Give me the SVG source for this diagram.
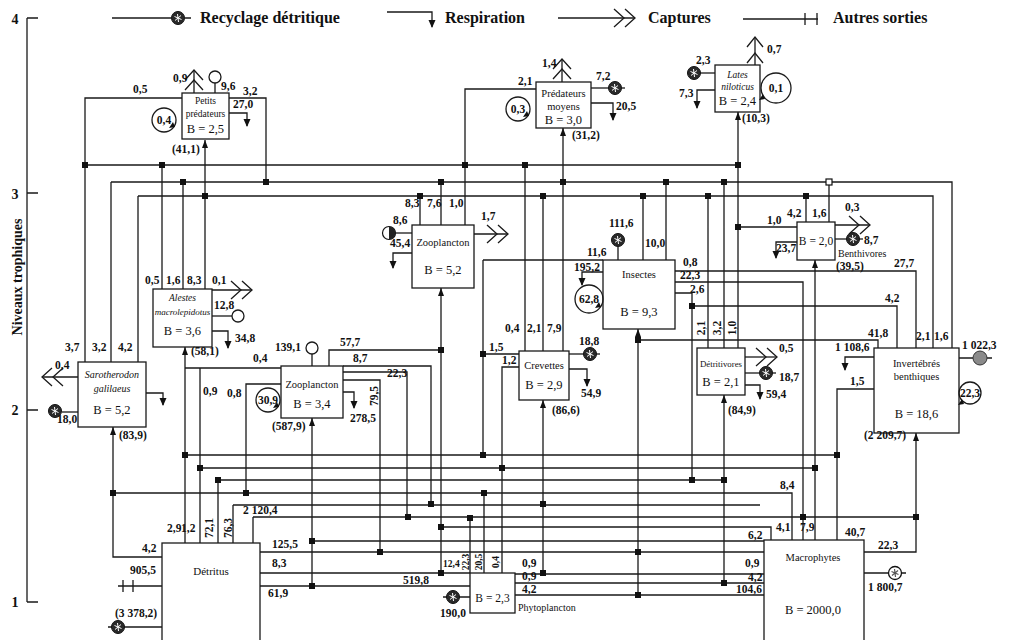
<svg xmlns="http://www.w3.org/2000/svg" xmlns:xlink="http://www.w3.org/1999/xlink" width="1009" height="640" viewBox="0 0 1009 640">
<style>
.c{fill:none;stroke:#1a1a1a;stroke-width:1.3}
.b{fill:#fff;stroke:#1a1a1a;stroke-width:1.3}
.o{fill:#fff;stroke:#1a1a1a;stroke-width:1.3}
.t{font-family:"Liberation Serif","Times New Roman",serif;font-size:11.5px;font-weight:bold;fill:#111}
.n{font-family:"Liberation Serif","Times New Roman",serif;font-size:10px;fill:#111;text-anchor:middle}
.i{font-style:italic}
.B{font-size:12.5px}
.m{text-anchor:middle}
.L{font-family:"Liberation Serif","Times New Roman",serif;font-size:16px;font-weight:bold;fill:#111}
.j{fill:#111}
</style>
<defs>
<marker id="res" viewBox="0 0 8 8" refX="7" refY="4" markerWidth="8" markerHeight="8" markerUnits="userSpaceOnUse" orient="auto"><path d="M0,0.5 L8,4 L0,7.5 z" fill="#111"/></marker>
<g id="rec"><circle r="6.5" fill="#2a2a2a" stroke="#111" stroke-width="1"/><path d="M-3.5,-1.5 L3.5,1.5 M-3,2.5 L3,-2.5 M-0.5,-4 L0.5,4" stroke="#fff" stroke-width="1"/></g>
<g id="recl"><circle r="6.5" fill="#fff" stroke="#111" stroke-width="1.3"/><path d="M-3.5,-1.5 L3.5,1.5 M-3,2.5 L3,-2.5 M-0.5,-4 L0.5,4" stroke="#555" stroke-width="1.2"/></g>
<path id="capR" d="M-21,-9 L-11,0 L-21,9 M-10,-9 L0,0 L-10,9" fill="none" stroke="#1a1a1a" stroke-width="1.3"/>
<path id="inp" d="M-3,8 L0,0 L3,8 z" fill="#111"/>
<path id="loop" d="M0,0 L-6,1 L-2,-5 z" fill="#111"/>
</defs>

<!-- legend -->
<g id="legend">
<path class="c" d="M112,18 H171 M185,18 H191"/>
<use xlink:href="#rec" x="178" y="18"/>
<text class="L" x="200" y="23">Recyclage détritique</text>
<path class="c" d="M387,12 H432 V27" marker-end="url(#res)"/>
<text class="L" x="445" y="23">Respiration</text>
<path class="c" d="M558,18 H635"/>
<use xlink:href="#capR" x="635" y="18"/>
<text class="L" x="648" y="23">Captures</text>
<path class="c" d="M743,19 H818 M805,13 V25 M817,13 V25"/>
<text class="L" x="833" y="23">Autres sorties</text>
</g>

<!-- axis -->
<g id="axis">
<path class="c" d="M27,18 V602 M27,18 H38 M27,193 H38 M27,410 H38 M27,602 H38"/>
<text class="t" x="15" y="24" style="font-size:14px" text-anchor="middle">4</text>
<text class="t" x="15" y="199" style="font-size:14px" text-anchor="middle">3</text>
<text class="t" x="15" y="415" style="font-size:14px" text-anchor="middle">2</text>
<text class="t" x="15" y="607" style="font-size:14px" text-anchor="middle">1</text>
<text class="L" x="0" y="0" transform="translate(22,277) rotate(-90)" text-anchor="middle" style="font-size:14px">Niveaux trophiques</text>
</g>

<!-- connectors -->
<g id="connectors">
<path class="c" d="M182,98 H85 V362 M229,98 H266 V182 M536,89 H465 V225"/>
<path class="c" d="M85,165 H738 M111,182 H952 V348 M138,196 H933 V348"/>
<path class="c" d="M111,182 V362 M138,196 V362 M162,165 V289 M183,182 V289 M205,140 V289"/>
<path class="c" d="M420,196 V225 M441,182 V225 M525,165 V351 M543,196 V351 M563,128 V351"/>
<path class="c" d="M643,196 V260 M666,182 V260 M708,196 V348 M724,182 V348 M738,112 V348 M738,227 H797 M806,196 V222 M829,182 V222"/>
<path class="c" d="M483,260 H603 M483,260 V455 M519,354 H483 M519,367 H502 V573"/>
<path class="c" d="M675,271 H916 V348 M675,282 H803 V540 M675,293 H692 V480 M692,306 H897 V348"/>
<path class="c" d="M638,329 V595 M638,340 H878 V348 M815,260 V540 M874,389 H837 V540 M916,433 V552 H864"/>
<path class="c" d="M441,288 V573 M329,366 V350 H441 M343,366 H431 V504 M343,372 H407 V517 M343,380 H380 V552 M312,418 V586"/>
<path class="c" d="M281,368 H200 V543 M281,384 H246 V493 M200,368 H185"/>
<path class="c" d="M185,347 V543 M218,480 V543 M233,505 V543 M253,517 V543 M113,427 V557 H162"/>
<path class="c" d="M185,455 H837 M200,468 H815 M218,480 H724 M113,493 H792 V540 M233,505 H760 M253,517 H916 M441,527 H771 V540 M312,541 H764 M260,552 H764"/>
<path class="c" d="M260,573 H470 M515,574 H764 M515,583 H764 M515,595 H764 M260,586 H470 M470,518 V573 M484,493 V573 M543,400 V573 M724,395 V583"/>
<g class="j">
<rect x="82" y="162" width="6" height="6"/><rect x="159" y="162" width="6" height="6"/><rect x="462" y="162" width="6" height="6"/><rect x="522" y="162" width="6" height="6"/><rect x="735" y="162" width="6" height="6"/>
<rect x="180" y="179" width="6" height="6"/><rect x="263" y="179" width="6" height="6"/><rect x="438" y="179" width="6" height="6"/><rect x="560" y="179" width="6" height="6"/><rect x="663" y="179" width="6" height="6"/><rect x="721" y="179" width="6" height="6"/>
<rect x="202" y="193" width="6" height="6"/><rect x="417" y="193" width="6" height="6"/><rect x="540" y="193" width="6" height="6"/><rect x="640" y="193" width="6" height="6"/><rect x="705" y="193" width="6" height="6"/><rect x="803" y="193" width="6" height="6"/>
<rect x="735" y="224" width="6" height="6"/><rect x="689" y="303" width="6" height="6"/><rect x="635" y="337" width="6" height="6"/><rect x="480" y="351" width="6" height="6"/><rect x="438" y="347" width="6" height="6"/>
<rect x="182" y="452" width="6" height="6"/><rect x="480" y="452" width="6" height="6"/><rect x="834" y="452" width="6" height="6"/>
<rect x="197" y="465" width="6" height="6"/><rect x="499" y="465" width="6" height="6"/><rect x="812" y="465" width="6" height="6"/>
<rect x="215" y="477" width="6" height="6"/><rect x="689" y="477" width="6" height="6"/><rect x="721" y="477" width="6" height="6"/>
<rect x="110" y="490" width="6" height="6"/><rect x="243" y="490" width="6" height="6"/><rect x="481" y="490" width="6" height="6"/>
<rect x="428" y="501" width="6" height="6"/><rect x="540" y="501" width="6" height="6"/>
<rect x="405" y="514" width="6" height="6"/><rect x="467" y="515" width="6" height="6"/><rect x="800" y="514" width="6" height="6"/><rect x="913" y="514" width="6" height="6"/>
<rect x="438" y="524" width="6" height="6"/><rect x="309" y="538" width="6" height="6"/><rect x="377" y="549" width="6" height="6"/><rect x="635" y="549" width="6" height="6"/>
<rect x="438" y="570" width="6" height="6"/><rect x="540" y="570" width="6" height="6"/><rect x="721" y="580" width="6" height="6"/><rect x="309" y="583" width="6" height="6"/><rect x="635" y="592" width="6" height="6"/>
</g>
<rect x="826" y="179" width="6" height="6" fill="#fff" stroke="#111" stroke-width="1.2"/>
<use xlink:href="#inp" x="205" y="140"/><use xlink:href="#inp" x="563" y="128"/><use xlink:href="#inp" x="738" y="112"/><use xlink:href="#inp" x="441" y="288"/>
<use xlink:href="#inp" x="185" y="347"/><use xlink:href="#inp" x="113" y="427"/><use xlink:href="#inp" x="312" y="418"/><use xlink:href="#inp" x="543" y="400"/>
<use xlink:href="#inp" x="638" y="329"/><use xlink:href="#inp" x="724" y="395"/><use xlink:href="#inp" x="815" y="260"/><use xlink:href="#inp" x="916" y="433"/>
</g>

<!-- flow labels -->
<g id="labels" class="t">
<text x="133" y="93">0,5</text><text x="243" y="95">3,2</text><text x="233" y="108">27,0</text>
<text x="518" y="85">2,1</text>
<text x="405" y="207">8,3</text><text x="427" y="207">7,6</text><text x="449" y="207">1,0</text>
<text x="145" y="284">0,5</text><text x="166" y="284">1,6</text><text x="187" y="284">8,3</text>
<text x="65" y="351">3,7</text><text x="92" y="351">3,2</text><text x="118" y="351">4,2</text>
<text x="253" y="362">0,4</text><text x="203" y="395">0,9</text><text x="227" y="397">0,8</text>
<text x="340" y="346">57,7</text><text x="353" y="362">8,7</text><text x="387" y="377">22,3</text>
<text transform="translate(378,396) rotate(-90)" text-anchor="middle">79,5</text>
<text x="505" y="332">0,4</text><text x="527" y="332">2,1</text><text x="547" y="332">7,9</text>
<text x="489" y="351">1,5</text><text x="502" y="364">1,2</text>
<text x="587" y="256">11,6</text><text x="645" y="247">10,0</text>
<text x="683" y="266">0,8</text><text x="680" y="279">22,3</text><text x="690" y="293">2,6</text>
<text transform="translate(705,328) rotate(-90)" text-anchor="middle">2,1</text>
<text transform="translate(721,328) rotate(-90)" text-anchor="middle">3,2</text>
<text transform="translate(736,328) rotate(-90)" text-anchor="middle">1,0</text>
<text x="767" y="224">1,0</text><text x="787" y="217">4,2</text><text x="812" y="217">1,6</text>
<text x="894" y="267">27,7</text><text x="885" y="302">4,2</text><text x="868" y="337">41,8</text>
<text x="916" y="340">2,1</text><text x="934" y="340">1,6</text><text x="850" y="385">1,5</text>
<text x="780" y="489">8,4</text><text x="748" y="539">6,2</text><text x="776" y="531">4,1</text><text x="800" y="531">7,9</text><text x="845" y="536">40,7</text><text x="878" y="549">22,3</text>
<text x="745" y="567">0,9</text><text x="748" y="581">4,2</text><text x="736" y="593">104,6</text>
<text x="522" y="567">0,9</text><text x="522" y="580">0,9</text><text x="522" y="593">4,2</text>
<text x="443" y="567" style="font-size:9.5px">12,4</text>
<text transform="translate(469,562) rotate(-90)" text-anchor="middle" style="font-size:9.5px">22,3</text>
<text transform="translate(482,562) rotate(-90)" text-anchor="middle" style="font-size:9.5px">20,5</text>
<text transform="translate(499,562) rotate(-90)" text-anchor="middle" style="font-size:9.5px">0,4</text>
<text x="167" y="532">2,9</text><text x="181" y="532">1,2</text>
<text transform="translate(213,528) rotate(-90)" text-anchor="middle">72,1</text>
<text transform="translate(232,528) rotate(-90)" text-anchor="middle">76,3</text>
<text x="243" y="514">2 120,4</text>
<text x="142" y="552">4,2</text>
<text x="272" y="548">125,5</text><text x="272" y="567">8,3</text><text x="268" y="597">61,9</text><text x="403" y="584">519,8</text>
</g>

<!-- nodes -->
<g id="petits-predateurs">
<rect class="b" x="182" y="93" width="47" height="46"/>
<text class="n" x="205.5" y="104" style="font-size:9.5px">Petits</text>
<text class="n" x="205.5" y="117" style="font-size:9.5px">prédateurs</text>
<text class="n B" x="205.5" y="133">B = 2,5</text>
<path class="c" d="M194,93 V70"/><path class="c" d="M185,80 L194,70 L203,80 M185,90 L194,80 L203,90"/>
<path class="c" d="M215,93 V83"/><circle class="o" cx="215" cy="77" r="6"/>
<path class="c" d="M229,113 H247 V126" marker-end="url(#res)"/>
<circle class="c" cx="164" cy="120" r="12"/><use xlink:href="#loop" x="175" y="127"/>
<text class="t m" x="164" y="124">0,4</text>
<text class="t" x="173" y="82">0,9</text><text class="t" x="221" y="90">9,6</text>
<text class="t" x="172" y="153">(41,1)</text>
</g>

<g id="predateurs-moyens">
<rect class="b" x="536" y="82" width="55" height="46"/>
<text class="n" x="563.5" y="97" style="font-size:10.5px">Prédateurs</text>
<text class="n" x="563.5" y="110" style="font-size:10.5px">moyens</text>
<text class="n B" x="563.5" y="124">B = 3,0</text>
<path class="c" d="M562,82 V59"/><path class="c" d="M553,69 L562,59 L571,69 M553,79 L562,69 L571,79"/>
<path class="c" d="M591,88 H609"/><use xlink:href="#rec" x="615" y="88"/><path class="c" d="M621,88 H625"/>
<path class="c" d="M591,103 H613 V120" marker-end="url(#res)"/>
<circle class="c" cx="518" cy="109" r="12"/><use xlink:href="#loop" x="529" y="116"/>
<text class="t m" x="518" y="113">0,3</text>
<text class="t" x="542" y="67">1,4</text><text class="t" x="596" y="80">7,2</text><text class="t" x="616" y="110">20,5</text>
<text class="t" x="572" y="139">(31,2)</text>
</g>

<g id="lates-niloticus">
<rect class="b" x="715" y="65" width="45" height="47"/>
<text class="n i" x="737.5" y="78" style="font-size:9.5px">Lates</text>
<text class="n i" x="737.5" y="90" style="font-size:9.5px">niloticus</text>
<text class="n B" x="737.5" y="105">B = 2,4</text>
<path class="c" d="M755,65 V37"/><path class="c" d="M747,47 L755,37 L763,47 M747,63 L755,53 L763,63"/>
<path class="c" d="M715,73 H700"/><use xlink:href="#rec" x="694" y="73"/>
<path class="c" d="M715,90 H697 V108" marker-end="url(#res)"/>
<circle class="c" cx="776" cy="88" r="15"/><use xlink:href="#loop" x="765" y="99"/>
<text class="t m" x="776" y="92">0,1</text>
<text class="t" x="696" y="64">2,3</text><text class="t" x="679" y="97">7,3</text><text class="t" x="767" y="53">0,7</text>
<text class="t" x="742" y="122">(10,3)</text>
</g>

<g id="zooplancton-1">
<rect class="b" x="412" y="225" width="62" height="63"/>
<text class="n" x="443" y="246" style="font-size:10.5px">Zooplancton</text>
<text class="n B" x="443" y="274">B = 5,2</text>
<path class="c" d="M412,233 H396"/>
<circle cx="389" cy="233" r="6.5" fill="#fff" stroke="#111" stroke-width="1.2"/><path d="M389,226.5 A6.5,6.5 0 0 1 389,239.5 z" fill="#222"/>
<path class="c" d="M412,253 H393 V268" marker-end="url(#res)"/>
<path class="c" d="M474,234 H508"/><use xlink:href="#capR" x="508" y="234"/>
<text class="t" x="393" y="224">8,6</text><text class="t" x="390" y="247">45,4</text><text class="t" x="481" y="220">1,7</text>
</g>

<g id="alestes">
<rect class="b" x="153" y="289" width="59" height="58"/>
<text class="n i" x="182.5" y="301" style="font-size:9.5px">Alestes</text>
<text class="n i" x="182.5" y="315" style="font-size:9px">macrolepidotus</text>
<text class="n B" x="182.5" y="335">B = 3,6</text>
<path class="c" d="M212,290 H252"/><use xlink:href="#capR" x="252" y="290"/>
<path class="c" d="M212,316 H232"/><circle class="o" cx="238" cy="316" r="6"/>
<path class="c" d="M212,331 H228 V348" marker-end="url(#res)"/>
<text class="t" x="212" y="284">0,1</text><text class="t" x="214" y="309">12,8</text><text class="t" x="235" y="342">34,8</text>
<text class="t" x="191" y="355">(58,1)</text>
</g>

<g id="sarotherodon">
<rect class="b" x="78" y="362" width="68" height="65"/>
<text class="n i" x="112" y="378" style="font-size:10px">Sarotherodon</text>
<text class="n i" x="112" y="392" style="font-size:10px">galilaeus</text>
<text class="n B" x="112" y="414">B = 5,2</text>
<path class="c" d="M78,377 H42"/><use xlink:href="#capR" transform="translate(42,377) rotate(180)"/>
<path class="c" d="M78,412 H62"/><use xlink:href="#rec" x="55" y="411"/>
<path class="c" d="M146,393 H163 V405" marker-end="url(#res)"/>
<text class="t" x="55" y="369">0,4</text><text class="t" x="57" y="423">18,0</text>
<text class="t" x="119" y="439">(83,9)</text>
</g>

<g id="zooplancton-2">
<rect class="b" x="281" y="366" width="62" height="52"/>
<text class="n" x="312" y="388" style="font-size:10.5px">Zooplancton</text>
<text class="n B" x="312" y="408">B = 3,4</text>
<path class="c" d="M312,366 V354"/><circle class="o" cx="312" cy="348" r="6"/>
<path class="c" d="M343,392 H354 V408" marker-end="url(#res)"/>
<circle class="c" cx="268" cy="400" r="12"/><use xlink:href="#loop" x="279" y="407"/>
<text class="t m" x="268" y="404">30,9</text>
<text class="t" x="275" y="351">139,1</text><text class="t" x="350" y="422">278,5</text>
<text class="t" x="272" y="430">(587,9)</text>
</g>

<g id="crevettes">
<rect class="b" x="519" y="351" width="50" height="49"/>
<text class="n" x="544" y="369" style="font-size:10.5px">Crevettes</text>
<text class="n B" x="544" y="389">B = 2,9</text>
<path class="c" d="M569,354 H584"/><use xlink:href="#rec" x="590" y="354"/><path class="c" d="M596,354 H600"/>
<path class="c" d="M569,369 H587 V386" marker-end="url(#res)"/>
<text class="t" x="579" y="345">18,8</text><text class="t" x="581" y="397">54,9</text>
<text class="t" x="552" y="414">(86,6)</text>
</g>

<g id="insectes">
<rect class="b" x="603" y="260" width="72" height="69"/>
<text class="n" x="639" y="278" style="font-size:10.5px">Insectes</text>
<text class="n B" x="639" y="316">B = 9,3</text>
<path class="c" d="M618,260 V247"/><use xlink:href="#rec" x="618" y="240"/>
<path class="c" d="M603,272 H582 V285" marker-end="url(#res)"/>
<circle class="c" cx="589" cy="299" r="14"/><use xlink:href="#loop" x="601" y="307"/>
<text class="t m" x="589" y="303">62,8</text>
<text class="t" x="609" y="227">111,6</text><text class="t" x="574" y="271">195,2</text>
</g>

<g id="detritivores">
<rect class="b" x="697" y="348" width="48" height="47"/>
<text class="n" x="721" y="367" style="font-size:8.8px">Détritivores</text>
<text class="n B" x="721" y="386">B = 2,1</text>
<path class="c" d="M745,357 H777"/><use xlink:href="#capR" x="777" y="357"/>
<path class="c" d="M745,373 H760"/><use xlink:href="#rec" x="766" y="373"/><path class="c" d="M772,373 H776"/>
<path class="c" d="M745,385 H760 V399" marker-end="url(#res)"/>
<text class="t" x="779" y="352">0,5</text><text class="t" x="779" y="381">18,7</text><text class="t" x="766" y="398">59,4</text>
<text class="t" x="728" y="414">(84,9)</text>
</g>

<g id="benthivores">
<rect class="b" x="797" y="222" width="38" height="38"/>
<text class="n B" x="816" y="245" style="font-size:11.5px">B = 2,0</text>
<path class="c" d="M835,225 H870"/><use xlink:href="#capR" x="870" y="225"/>
<path class="c" d="M835,239 H847"/><use xlink:href="#rec" x="853" y="239"/><path class="c" d="M859,239 H863"/>
<path class="c" d="M797,242 H776 V258" marker-end="url(#res)"/>
<text class="n" x="838" y="257" style="text-anchor:start;font-size:10px">Benthivores</text>
<text class="t" x="845" y="211">0,3</text><text class="t" x="864" y="244">8,7</text><text class="t" x="776" y="252">23,7</text>
<text class="t" x="836" y="270">(39,5)</text>
</g>

<g id="invertebres">
<rect class="b" x="874" y="348" width="85" height="85"/>
<text class="n" x="916.5" y="367" style="font-size:10.5px">Invertébrés</text>
<text class="n" x="916.5" y="380" style="font-size:10.5px">benthiques</text>
<text class="n B" x="916.5" y="418">B = 18,6</text>
<path class="c" d="M874,357 H845 V370" marker-end="url(#res)"/>
<path class="c" d="M959,358 H973 M987,358 H992"/><circle cx="980" cy="358" r="7" fill="#8a8a8a" stroke="#333" stroke-width="1"/>
<circle class="c" cx="970" cy="393" r="11"/><use xlink:href="#loop" x="964" y="404"/>
<text class="t m" x="970" y="397">22,3</text>
<text class="t" x="835" y="351">1 108,6</text><text class="t" x="962" y="349">1 022,3</text>
<text class="t" x="864" y="439">(2 209,7)</text>
</g>

<g id="detritus">
<rect class="b" x="162" y="543" width="98" height="102"/>
<text class="n" x="211" y="575" style="font-size:11px">Détritus</text>
<path class="c" d="M118,586 H162 M123,580 V592 M133,580 V592"/>
<path class="c" d="M162,627 H124 M112,627 H108"/><use xlink:href="#rec" x="118" y="627"/>
<text class="t" x="130" y="574">905,5</text><text class="t" x="115" y="617">(3 378,2)</text>
</g>

<g id="phytoplancton">
<rect class="b" x="470" y="573" width="45" height="40"/>
<text class="n B" x="492.5" y="602" style="font-size:11.5px">B = 2,3</text>
<text class="n" x="518" y="611" style="text-anchor:start;font-size:10px">Phytoplancton</text>
<path class="c" d="M470,597 H459 M447,597 H443"/><use xlink:href="#rec" x="453" y="597"/>
<text class="t" x="440" y="617">190,0</text>
</g>

<g id="macrophytes">
<rect class="b" x="764" y="540" width="100" height="105"/>
<text class="n" x="813" y="561" style="font-size:10.5px">Macrophytes</text>
<text class="n B" x="813" y="614">B = 2000,0</text>
<path class="c" d="M864,573 H888 M902,573 H906"/><use xlink:href="#recl" x="895" y="573"/>
<text class="t" x="868" y="591">1 800,7</text>
</g>
</svg>
